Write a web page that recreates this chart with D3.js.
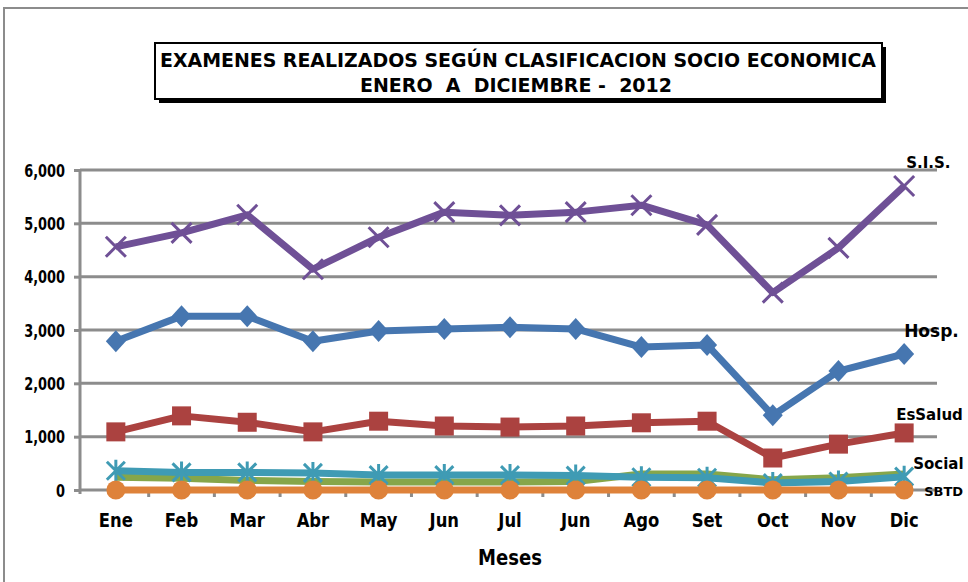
<!DOCTYPE html>
<html>
<head>
<meta charset="utf-8">
<script src="https://cdn.jsdelivr.net/npm/d3@7"></script>
<style>
  body { margin: 0; background: #fff; }
  text { font-family: "DejaVu Sans", Verdana, sans-serif; font-weight: bold; fill: #000; }
</style>
</head>
<body>
<div id="chart"></div>
<script>
// months (Jun appears twice in the original chart)
var months = ["Ene", "Feb", "Mar", "Abr", "May", "Jun", "Jul", "Jun", "Ago", "Set", "Oct", "Nov", "Dic"];
var yTicks = [0, 1000, 2000, 3000, 4000, 5000, 6000];

// values
var hosp    = [2790, 3260, 3260, 2790, 2980, 3020, 3050, 3020, 2680, 2720, 1400, 2230, 2550];
var essalud = [1090, 1390, 1270, 1090, 1290, 1200, 1180, 1200, 1260, 1290, 600, 860, 1070];
var otros   = [240, 220, 180, 160, 150, 150, 150, 160, 300, 300, 190, 230, 300];
var sis     = [4560, 4820, 5160, 4140, 4740, 5210, 5150, 5210, 5340, 4970, 3700, 4540, 5700];
var social  = [360, 330, 330, 320, 280, 280, 280, 270, 240, 230, 130, 160, 250];
var sbtd    = [0, 0, 0, 0, 0, 0, 0, 0, 0, 0, 0, 0, 0];

var W = 968, H = 582;
var svg = d3.select("#chart").append("svg")
    .attr("width", W)
    .attr("height", H);

// squeeze a text horizontally (the original font is narrow)
function squeeze(sel, k) {
  sel.each(function() {
    var w = this.getComputedTextLength();
    d3.select(this).attr("textLength", w * k).attr("lengthAdjust", "spacingAndGlyphs");
  });
}

// outer frame
svg.append("rect")
  .attr("x", 4).attr("y", 8)
  .attr("width", W + 20).attr("height", H + 20)
  .attr("fill", "none")
  .attr("stroke", "#8c8c8c")
  .attr("stroke-width", 2);

// title box with shadow
svg.append("rect")
  .attr("x", 159).attr("y", 47).attr("width", 727).attr("height", 56)
  .attr("fill", "#000");
svg.append("rect")
  .attr("x", 155).attr("y", 43).attr("width", 727).attr("height", 56)
  .attr("fill", "#fff")
  .attr("stroke", "#000")
  .attr("stroke-width", 2);
svg.append("text")
  .attr("x", 518).attr("y", 67)
  .attr("text-anchor", "middle")
  .style("font-size", "20px")
  .attr("textLength", 716).attr("lengthAdjust", "spacingAndGlyphs")
  .text("EXAMENES REALIZADOS SEGÚN CLASIFICACION SOCIO ECONOMICA");
svg.append("text")
  .attr("x", 516).attr("y", 92)
  .attr("text-anchor", "middle")
  .style("font-size", "20px")
  .style("white-space", "pre")
  .attr("textLength", 312).attr("lengthAdjust", "spacingAndGlyphs")
  .text("ENERO  A  DICIEMBRE -  2012");

// scales
var x = d3.scaleBand()
  .domain(d3.range(months.length))
  .range([83, 937]);
var cx = function(i) { return x(i) + x.bandwidth() / 2; };

var y = d3.scaleLinear()
  .domain([0, 6000])
  .range([490, 170]);

// gridlines
svg.append("g")
  .selectAll("line")
  .data(yTicks)
  .enter()
  .append("line")
    .attr("x1", 80).attr("x2", 937)
    .attr("y1", function(d) { return y(d); })
    .attr("y2", function(d) { return y(d); })
    .attr("stroke", "#8c8c8c")
    .attr("stroke-width", 3);

// Y axis
var yAxis = svg.append("g")
  .attr("transform", "translate(80,0)")
  .call(d3.axisLeft(y).tickValues(yTicks).tickFormat(d3.format(",")).tickSize(6).tickPadding(9));
yAxis.select(".domain").attr("stroke", "#8c8c8c").attr("stroke-width", 3)
  .attr("d", "M0," + y(6000) + "V" + (y(0) + 4));
yAxis.selectAll(".tick line").attr("stroke", "#8c8c8c").attr("stroke-width", 3);
yAxis.selectAll(".tick text")
  .style("font-size", "17px")
  .attr("dy", "0.36em")
  .call(squeeze, 0.76);

// X axis: small tick marks between categories
svg.append("g")
  .selectAll("rect")
  .data(d3.range(1, months.length))
  .enter()
  .append("rect")
    .attr("x", function(i) { return x(i) - 1.5; })
    .attr("y", y(0) + 3)
    .attr("width", 3).attr("height", 4)
    .attr("fill", "#8c8c8c");

svg.append("g")
  .selectAll("text")
  .data(months)
  .enter()
  .append("text")
    .attr("x", function(d, i) { return cx(i); })
    .attr("y", 527)
    .attr("text-anchor", "middle")
    .style("font-size", "20px")
    .text(function(d) { return d; })
    .call(squeeze, 0.82);

svg.append("text")
  .attr("x", 510).attr("y", 565)
  .attr("text-anchor", "middle")
  .style("font-size", "22px")
  .text("Meses")
  .call(squeeze, 0.82);

// series
var series = [
  { name: "Hosp.",   values: hosp,    color: "#4676b0", marker: "diamond" },
  { name: "EsSalud", values: essalud, color: "#ab4240", marker: "square" },
  { name: "",        values: otros,   color: "#86a64a", marker: "none" },
  { name: "S.I.S.",  values: sis,     color: "#6f5096", marker: "x" },
  { name: "Social",  values: social,  color: "#3f9bb4", marker: "star" },
  { name: "SBTD",    values: sbtd,    color: "#de823a", marker: "circle" }
];

var line = d3.line()
  .x(function(d, i) { return cx(i); })
  .y(function(d) { return y(d); });

series.forEach(function(s) {
  var g = svg.append("g");
  g.append("path")
    .datum(s.values)
    .attr("fill", "none")
    .attr("stroke", s.color)
    .attr("stroke-width", 7)
    .attr("stroke-linejoin", "round")
    .attr("d", line);

  var pts = g.selectAll(".pt")
    .data(s.values)
    .enter()
    .append("g")
      .attr("transform", function(d, i) { return "translate(" + cx(i) + "," + y(d) + ")"; });

  if (s.marker == "diamond") {
    pts.append("path").attr("d", "M0,-11L10,0L0,11L-10,0Z").attr("fill", s.color);
  } else if (s.marker == "square") {
    pts.append("rect").attr("x", -9.5).attr("y", -9.5).attr("width", 19).attr("height", 19).attr("fill", s.color);
  } else if (s.marker == "circle") {
    pts.append("circle").attr("r", 9.5).attr("fill", s.color);
  } else if (s.marker == "x") {
    pts.append("path").attr("d", "M-10,-10L10,10M-10,10L10,-10")
      .attr("stroke", s.color).attr("stroke-width", 3);
  } else if (s.marker == "star") {
    pts.append("path").attr("d", "M-9,-9L9,9M-9,9L9,-9M0,-11V11")
      .attr("stroke", s.color).attr("stroke-width", 3);
  }
});

// series labels at the right end (sized so they stay inside the picture)
var last = months.length - 1;
var labels = [
  { text: "S.I.S.",  v: sis[last],     dx: 2,  dy: -18, size: 15 },
  { text: "Hosp.",   v: hosp[last],    dx: 0,  dy: -17, size: 17 },
  { text: "EsSalud", v: essalud[last], dx: -8, dy: -13, size: 15 },
  { text: "Social",  v: social[last],  dx: 9,  dy: -8,  size: 15 },
  { text: "SBTD",    v: sbtd[last],    dx: 20, dy: 6,   size: 13 }
];
svg.append("g")
  .selectAll("text")
  .data(labels)
  .enter()
  .append("text")
    .attr("x", function(d) { return cx(last) + d.dx; })
    .attr("y", function(d) { return y(d.v) + d.dy; })
    .style("font-size", function(d) { return d.size + "px"; })
    .text(function(d) { return d.text; });
</script>
</body>
</html>
